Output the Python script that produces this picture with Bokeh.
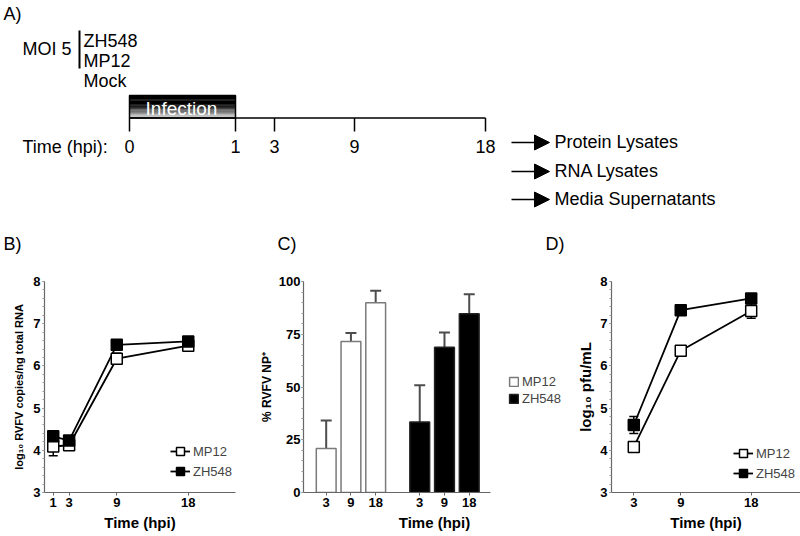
from bokeh.plotting import figure
from bokeh.layouts import column, row
from bokeh.models import (Range1d, ColumnDataSource, Whisker, TeeHead, Legend, LegendItem,
                          FixedTicker, SingleIntervalTicker, Arrow, NormalHead)
from bokeh.core.properties import value
from bokeh.embed import file_html
from bokeh.resources import INLINE

FONT = "Liberation Sans"

# ---------------- data / texts ----------------
panel_labels = ["A)", "B)", "C)", "D)"]
moi_label = ["MOI 5"]
strains_listed = ["ZH548", "MP12", "Mock"]
timeline_labels = ["0", "1", "3", "9", "18"]
timeline_caption = ["Time (hpi):"]
infection_label = ["Infection"]
outputs = ["Protein Lysates", "RNA Lysates", "Media Supernatants"]

# Panel B: log10 RVFV copies / ng total RNA
b_hours = [1, 3, 9, 18]
b_mp12 = [4.09, 4.12, 6.17, 6.48]
b_mp12_err = [0.22, 0.05, 0.13, 0.05]
b_zh548 = [4.33, 4.23, 6.50, 6.58]
b_zh548_err = [0.05, 0.05, 0.06, 0.04]

# Panel C: % RVFV NP+
c_hours = ["3", "9", "18"]
c_mp12 = [20.8, 71.6, 89.9]
c_mp12_err = [13.3, 4.0, 5.7]
c_zh548 = [33.4, 68.8, 84.7]
c_zh548_err = [17.4, 7.0, 9.2]

# Panel D: log10 pfu/mL
d_hours = [3, 9, 18]
d_mp12 = [4.08, 6.36, 7.30]
d_mp12_err = [0.05, 0.05, 0.17]
d_zh548 = [4.60, 7.32, 7.60]
d_zh548_err = [0.20, 0.08, 0.06]

# ---------------- layout constants (panel A diagram, pixel-like coordinates) ----------------
panel_label_x = [3, 3, 277, 545]
panel_label_y = [13, 243, 243, 243]
timeline_x = [129, 235, 274, 354, 485]
timeline_y = 117.5
output_y = [141, 170, 198]


def add_text(p, xs, ys, texts, size, color="black", align="left", style="normal"):
    p.text(x=xs, y=ys, text=texts, text_font=value(FONT), text_font_size=size,
           text_color=color, text_align=align, text_baseline="middle", text_font_style=style)


# ---------------- Panel A ----------------
pa = figure(width=800, height=255, x_range=Range1d(0, 800), y_range=Range1d(255, 0),
            x_axis_type=None, y_axis_type=None, output_backend="svg", toolbar_location=None,
            min_border=0, outline_line_color=None)

add_text(pa, panel_label_x, panel_label_y, panel_labels, "18px")
add_text(pa, [22], [48], moi_label, "18px")
pa.segment(x0=[79], y0=[30], x1=[79], y1=[68], line_color="black", line_width=2)
add_text(pa, [83] * 3, [40, 60, 80], strains_listed, "18px")

# infection box with vertical gradient (black -> light grey)
n_strips = 18
box_top, box_bot = 95.0, 117.5
strip_h = (box_bot - box_top) / n_strips
strip_tops = [box_top + i * strip_h for i in range(n_strips)]
strip_bots = [t + strip_h + 0.3 for t in strip_tops]
strip_cols = []
for i in range(n_strips):
    f = max(0.0, (i - 7) / (n_strips - 8))
    g = int(round(215 * f))
    strip_cols.append("#%02x%02x%02x" % (g, g, g))
pa.quad(left=[timeline_x[0]] * n_strips, right=[timeline_x[1]] * n_strips,
        top=strip_tops, bottom=strip_bots, fill_color=strip_cols, line_color=None)
pa.quad(left=[timeline_x[0]], right=[timeline_x[1]], top=[box_top], bottom=[box_bot],
        fill_color=None, line_color="black", line_width=1.5)
add_text(pa, [(timeline_x[0] + timeline_x[1]) / 2 - 1], [107.5], infection_label, "19px",
         color="white", align="center")

# timeline
pa.segment(x0=[timeline_x[0]], y0=[timeline_y], x1=[timeline_x[-1]], y1=[timeline_y],
           line_color="black", line_width=1.5)
pa.segment(x0=timeline_x, y0=[timeline_y] * 5, x1=timeline_x, y1=[131] * 5,
           line_color="black", line_width=1.5)
add_text(pa, timeline_x, [146] * 5, timeline_labels, "18px", align="center")
add_text(pa, [22], [146], timeline_caption, "18px")

for yy in output_y:
    pa.add_layout(Arrow(end=NormalHead(size=15, fill_color="black", line_color="black"),
                        x_start=511, y_start=yy + 1, x_end=549, y_end=yy + 1,
                        line_color="black", line_width=1.5))
add_text(pa, [554] * 3, output_y, outputs, "18px")


# ---------------- axis style helper ----------------
def style(p, xlabel, ylabel, ylabel_size):
    xa = p.xaxis[0]
    ya = p.yaxis[0]
    for ax in (xa, ya):
        ax.axis_line_color = "#666666"
        ax.axis_line_width = 1.2
        ax.major_tick_line_color = "#666666"
        ax.minor_tick_line_color = "#999999"
        ax.major_tick_in = 0
        ax.minor_tick_in = 0
        ax.major_label_text_font = FONT
        ax.major_label_text_font_style = "bold"
        ax.major_label_text_font_size = "13px"
        ax.major_label_text_color = "black"
        ax.axis_label_text_font = FONT
        ax.axis_label_text_font_style = "bold"
        ax.axis_label_text_color = "black"
    xa.axis_label = xlabel
    xa.axis_label_text_font_size = "15px"
    xa.major_tick_out = 3
    xa.minor_tick_out = 0
    xa.major_label_standoff = 2
    xa.axis_label_standoff = 4
    ya.axis_label = ylabel
    ya.axis_label_text_font_size = ylabel_size
    ya.major_tick_out = 2
    ya.minor_tick_out = 2
    ya.major_label_standoff = 2
    ya.axis_label_standoff = 3
    p.grid.visible = False


def line_panel(p, hours, mp, mp_err, zh, zh_err, legend_loc):
    src = ColumnDataSource(dict(
        x=hours, mp=mp, zh=zh,
        mp_lo=[v - e for v, e in zip(mp, mp_err)], mp_hi=[v + e for v, e in zip(mp, mp_err)],
        zh_lo=[v - e for v, e in zip(zh, zh_err)], zh_hi=[v + e for v, e in zip(zh, zh_err)]))
    for lo, hi in (("mp_lo", "mp_hi"), ("zh_lo", "zh_hi")):
        p.add_layout(Whisker(base="x", lower=lo, upper=hi, source=src, level="underlay",
                             line_color="black", line_width=1.5,
                             upper_head=TeeHead(size=9, line_color="black", line_width=1.5),
                             lower_head=TeeHead(size=9, line_color="black", line_width=1.5)))
    l_mp = p.line("x", "mp", source=src, line_color="black", line_width=1.8)
    l_zh = p.line("x", "zh", source=src, line_color="black", line_width=1.8)
    s_mp = p.scatter("x", "mp", source=src, marker="square", size=11,
                     fill_color="white", line_color="black", line_width=1.5)
    s_zh = p.scatter("x", "zh", source=src, marker="square", size=11,
                     fill_color="black", line_color="black", line_width=1.5)
    leg = Legend(items=[LegendItem(label="MP12", renderers=[l_mp, s_mp]),
                        LegendItem(label="ZH548", renderers=[l_zh, s_zh])],
                 location=legend_loc, glyph_width=20, glyph_height=20, spacing=-7,
                 padding=0, margin=0, label_standoff=3, label_text_font=FONT,
                 label_text_font_size="13px", border_line_color=None,
                 background_fill_alpha=0)
    p.add_layout(leg)


ROW_H = 281

# ---------------- Panel B ----------------
pb = figure(width=253, height=ROW_H, x_range=Range1d(-0.1, 23.95), y_range=Range1d(3, 8),
            output_backend="svg", toolbar_location=None, outline_line_color=None,
            min_border_left=44, min_border_right=18, min_border_top=26, min_border_bottom=44)
style(pb, "Time (hpi)", "log\u2081\u2080 RVFV copies/ng total RNA", "11px")
pb.yaxis[0].axis_label_standoff = 5
pb.xaxis[0].ticker = FixedTicker(ticks=b_hours)
pb.yaxis[0].ticker = SingleIntervalTicker(interval=1, num_minor_ticks=5)
line_panel(pb, b_hours, b_mp12, b_mp12_err, b_zh548, b_zh548_err, (126, 11))

# ---------------- Panel C ----------------
gap = 0.78
c_x_mp = [float(i) for i in range(len(c_hours))]
c_x_zh = [round(len(c_hours) + gap + i, 2) for i in range(len(c_hours))]

pc = figure(width=312, height=ROW_H, x_range=Range1d(-0.917, 9.67), y_range=Range1d(0, 100),
            output_backend="svg", toolbar_location=None, outline_line_color=None,
            min_border_left=50, min_border_right=0, min_border_top=26, min_border_bottom=42)
style(pc, "Time (hpi)", "% RVFV NP\u207a", "12px")
pc.yaxis[0].major_label_standoff = 1
pc.yaxis[0].axis_label_standoff = 2
pc.xaxis[0].ticker = FixedTicker(ticks=c_x_mp + c_x_zh)
pc.xaxis[0].major_label_overrides = {x: lab for x, lab in zip(c_x_mp + c_x_zh, c_hours + c_hours)}
pc.xaxis[0].bounds = (-0.917, 6.64)
pc.yaxis[0].ticker = SingleIntervalTicker(interval=25, num_minor_ticks=5)

src_cm = ColumnDataSource(dict(x=c_x_mp, top=c_mp12, hi=[v + e for v, e in zip(c_mp12, c_mp12_err)]))
src_cz = ColumnDataSource(dict(x=c_x_zh, top=c_zh548, hi=[v + e for v, e in zip(c_zh548, c_zh548_err)]))
for s in (src_cm, src_cz):
    pc.add_layout(Whisker(base="x", lower="top", upper="hi", source=s, lower_head=None,
                          line_color="#4d4d4d", line_width=2,
                          upper_head=TeeHead(size=11, line_color="#4d4d4d", line_width=2)))
b_mp = pc.vbar(x="x", top="top", bottom=0, width=0.8, source=src_cm,
               fill_color="white", line_color="#7a7a7a", line_width=1.5)
b_zh = pc.vbar(x="x", top="top", bottom=0, width=0.8, source=src_cz,
               fill_color="black", line_color="#222222", line_width=1.5)
legC = Legend(items=[LegendItem(label="MP12", renderers=[b_mp]),
                     LegendItem(label="ZH548", renderers=[b_zh])],
              location=(205, 86), glyph_width=11, glyph_height=11, spacing=2,
              padding=0, margin=0, label_standoff=3, label_text_font=FONT,
              label_text_font_size="13px", border_line_color=None, background_fill_alpha=0)
pc.add_layout(legC)

# ---------------- Panel D ----------------
pd = figure(width=235, height=ROW_H, x_range=Range1d(0.15, 24.3), y_range=Range1d(3, 8),
            output_backend="svg", toolbar_location=None, outline_line_color=None,
            min_border_left=46, min_border_right=0, min_border_top=26, min_border_bottom=44)
style(pd, "Time (hpi)", "log\u2081\u2080 pfu/mL", "15px")
pd.xaxis[0].ticker = FixedTicker(ticks=d_hours)
pd.yaxis[0].ticker = SingleIntervalTicker(interval=1, num_minor_ticks=5)
line_panel(pd, d_hours, d_mp12, d_mp12_err, d_zh548, d_zh548_err, (122, 9))

layout = column(pa, row(pb, pc, pd))
open("out.html", "w").write(file_html(layout, INLINE))
